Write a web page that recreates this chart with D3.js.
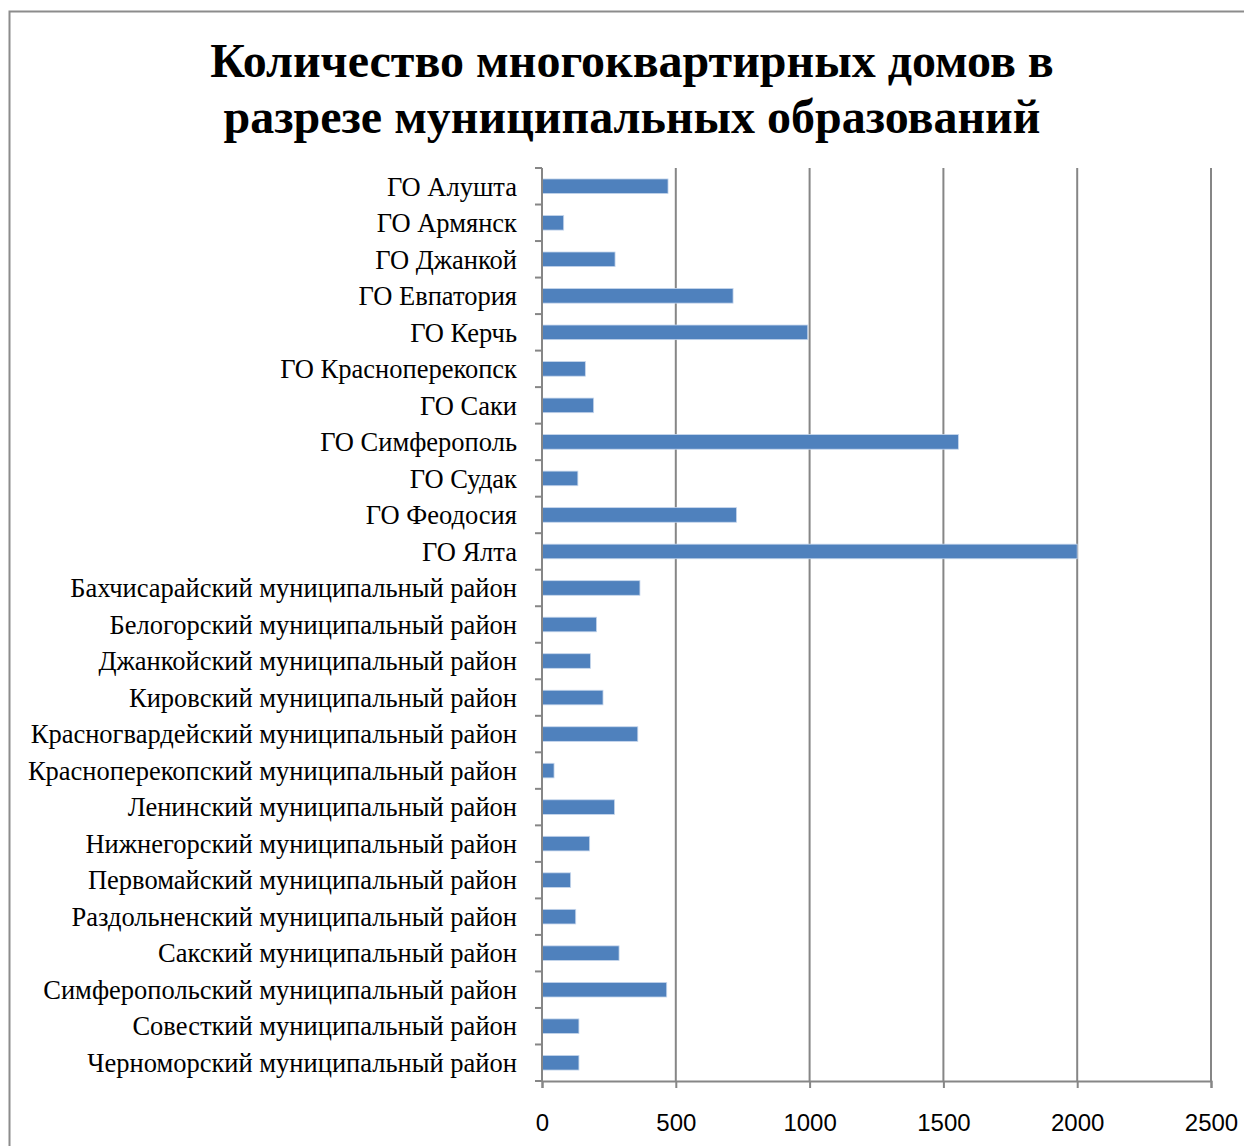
<!DOCTYPE html>
<html>
<head>
<meta charset="utf-8">
<script src="https://cdn.jsdelivr.net/npm/d3@7"></script>
<style>
  body { margin: 0; background: #fff; }
</style>
</head>
<body>
<div id="chart"></div>
<script>
const categories = [
  "ГО Алушта", "ГО Армянск", "ГО Джанкой", "ГО Евпатория", "ГО Керчь",
  "ГО Красноперекопск", "ГО Саки", "ГО Симферополь", "ГО Судак", "ГО Феодосия",
  "ГО Ялта", "Бахчисарайский муниципальный район", "Белогорский муниципальный район",
  "Джанкойский муниципальный район", "Кировский муниципальный район",
  "Красногвардейский муниципальный район", "Красноперекопский муниципальный район",
  "Ленинский муниципальный район", "Нижнегорский муниципальный район",
  "Первомайский муниципальный район", "Раздольненский муниципальный район",
  "Сакский муниципальный район", "Симферопольский муниципальный район",
  "Совесткий муниципальный район", "Черноморский муниципальный район"
];
const values = [471, 81, 273, 714, 993, 162, 193, 1556, 134, 727, 2000, 366, 204, 181, 228, 358, 45, 271, 178, 107, 126, 288, 466, 138, 138];
const xTicks = [0, 500, 1000, 1500, 2000, 2500];
const titleLines = ["Количество многоквартирных домов в", "разрезе муниципальных образований"];

const width = 1244, height = 1146;
const plot = { left: 542, right: 1211, top: 168, bottom: 1081 };

const svg = d3.select("#chart").append("svg")
  .attr("width", width)
  .attr("height", height);

// chart frame
svg.append("rect")
  .attr("x", 9.5).attr("y", 11.5)
  .attr("width", width + 20).attr("height", height + 20)
  .attr("fill", "#fff")
  .attr("stroke", "#8c8c8c")
  .attr("stroke-width", 2);

// title
svg.append("g").selectAll("text")
  .data(titleLines)
  .join("text")
  .attr("x", 632)
  .attr("y", (d, i) => 77 + i * 56)
  .attr("text-anchor", "middle")
  .style("font-family", "'Liberation Serif', 'Times New Roman', serif")
  .style("font-weight", "bold")
  .style("font-size", "48px")
  .text(d => d);

const x = d3.scaleLinear()
  .domain([0, 2500])
  .range([plot.left, plot.right]);

const y = d3.scaleBand()
  .domain(categories)
  .range([plot.top, plot.bottom])
  .paddingInner(0.6)
  .paddingOuter(0.3);

// vertical gridlines
svg.append("g").selectAll("line")
  .data(xTicks.slice(1))
  .join("line")
  .attr("x1", d => x(d)).attr("x2", d => x(d))
  .attr("y1", plot.top).attr("y2", plot.bottom)
  .attr("stroke", "#868686")
  .attr("stroke-width", 2);

// bars
svg.append("g").selectAll("rect")
  .data(values)
  .join("rect")
  .attr("x", x(0))
  .attr("y", (d, i) => y(categories[i]))
  .attr("width", d => x(d) - x(0))
  .attr("height", y.bandwidth())
  .attr("fill", "#4f81bd")
  .attr("stroke", "#c6d6ec")
  .attr("stroke-width", 0.8);

// x axis
const xAxis = svg.append("g")
  .attr("transform", `translate(0,${plot.bottom})`)
  .call(d3.axisBottom(x).tickValues(xTicks).tickSize(7).tickPadding(26).tickFormat(d3.format("d")));
xAxis.select(".domain").attr("stroke", "#868686").attr("stroke-width", 2);
xAxis.selectAll(".tick line").attr("stroke", "#868686").attr("stroke-width", 2);
xAxis.selectAll(".tick text")
  .attr("fill", "#000")
  .style("font-family", "'Liberation Sans', Arial, sans-serif")
  .style("font-size", "24px");

// y axis
const bandEdges = categories.map(c => y(c) - y.step() * y.paddingInner() / 2).concat([plot.bottom]);
const yAxis = svg.append("g");
yAxis.append("line")
  .attr("x1", plot.left).attr("x2", plot.left)
  .attr("y1", plot.top).attr("y2", plot.bottom)
  .attr("stroke", "#868686").attr("stroke-width", 2);
yAxis.selectAll(".ytick")
  .data(bandEdges)
  .join("line")
  .attr("class", "ytick")
  .attr("x1", plot.left - 7).attr("x2", plot.left)
  .attr("y1", d => d).attr("y2", d => d)
  .attr("stroke", "#868686").attr("stroke-width", 2);
yAxis.selectAll("text")
  .data(categories)
  .join("text")
  .attr("x", 517)
  .attr("y", d => y(d) + y.bandwidth() / 2)
  .attr("dy", "0.35em")
  .attr("text-anchor", "end")
  .style("font-family", "'Liberation Serif', 'Times New Roman', serif")
  .style("font-size", "26.5px")
  .text(d => d);
</script>
</body>
</html>
